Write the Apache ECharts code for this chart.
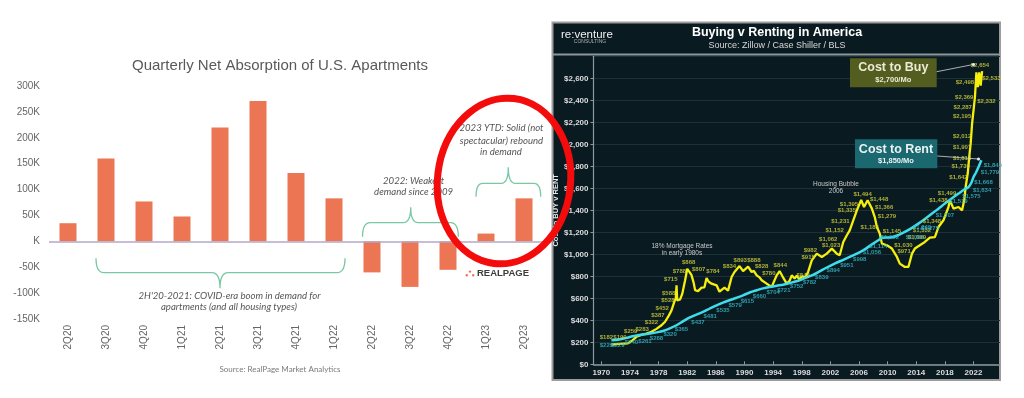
<!DOCTYPE html>
<html>
<head>
<meta charset="utf-8">
<script src="https://cdn.jsdelivr.net/npm/echarts@6/dist/echarts.min.js"></script>
<style>
html,body{margin:0;padding:0;background:#fff;}
#chart{width:1024px;height:398px;}
</style>
</head>
<body>
<div id="chart"></div>
<script>
// ---------- Left chart data ----------
const quarters = ['2Q20','3Q20','4Q20','1Q21','2Q21','3Q21','4Q21','1Q22','2Q22','3Q22','4Q22','1Q23','2Q23'];
const absorption = [35000,160000,77000,48000,220000,271000,132000,83000,-60000,-88000,-55000,15000,83000];

// ---------- Right chart data ----------
const yearTicks = [1970,1974,1978,1982,1986,1990,1994,1998,2002,2006,2010,2014,2018,2022];
const buyYears = [1971.4,1972.5,1973.7,1974.3,1974.9,1975.6,1976.3,1977.0,1977.7,1978.3,1978.9,1979.4,1979.8,1980.2,1980.4,1980.5,1980.6,1981.0,1981.3,1981.7,1982.0,1982.3,1982.6,1982.9,1983.1,1983.5,1984.0,1984.4,1984.7,1985.0,1985.4,1986.1,1986.5,1987.2,1987.7,1988.2,1988.6,1989.3,1989.8,1990.5,1991.0,1991.3,1991.7,1992.1,1992.4,1993.1,1993.8,1994.5,1994.9,1995.3,1995.9,1996.3,1996.6,1997.0,1997.3,1997.7,1998.0,1998.5,1998.9,1999.4,2000.1,2000.8,2001.5,2002.2,2002.9,2003.3,2003.8,2004.3,2004.7,2005.2,2005.7,2006.3,2006.7,2007.2,2007.8,2008.2,2008.5,2008.9,2009.2,2009.9,2010.6,2011.3,2011.7,2012.4,2012.9,2013.4,2013.8,2014.5,2015.2,2015.9,2016.6,2017.1,2017.8,2018.5,2018.7,2019.2,2019.9,2020.4,2020.7,2020.9,2021.2,2021.4,2021.6,2021.8,2022.0,2022.2,2022.4,2022.6,2022.8,2023.0,2023.2];
const buyCost = [180,185,190,215,250,268,280,295,322,350,387,440,490,570,600,718,580,590,640,764,868,840,810,740,673,665,697,700,784,750,733,718,660,697,670,794,839,893,848,888,839,850,809,790,764,733,704,809,848,800,733,760,809,780,805,770,800,790,842,945,1006,976,1006,1052,1006,991,1112,1173,1218,1309,1400,1494,1430,1491,1415,1339,1248,1188,1097,1082,1052,976,915,885,885,1006,1052,1082,1112,1152,1157,1248,1309,1430,1491,1415,1430,1400,1491,1612,1739,1885,2006,2188,2309,2430,2654,2520,2654,2533,2665];
const rentYears = [1971.4,1972.5,1973.5,1974.4,1975.5,1976.8,1977.7,1978.6,1979.5,1980.5,1981.4,1982.3,1983.2,1984.2,1985.1,1986.1,1987.0,1987.9,1988.9,1989.8,1990.8,1991.7,1992.6,1993.5,1994.5,1995.4,1996.4,1997.5,1998.5,1999.5,2000.5,2001.5,2002.6,2003.8,2005.0,2006.0,2006.8,2007.8,2008.7,2009.2,2010.6,2011.5,2012.4,2013.4,2014.3,2015.2,2016.2,2017.1,2018.0,2018.9,2019.9,2020.6,2021.3,2021.7,2022.0,2022.4,2022.7,2023.1];
const rentCost = [218,225,240,255,268,279,290,303,325,355,390,424,450,476,505,536,560,582,605,627,655,673,690,703,715,724,740,760,785,810,845,880,915,950,985,1015,1045,1090,1127,1150,1155,1175,1203,1240,1279,1320,1370,1415,1461,1505,1552,1585,1612,1650,1703,1750,1794,1855];
const buyLabels = [
 [1970.7,242,'$182'],[1972.6,242,'$190'],[1974.1,303,'$259'],[1975.7,318,'$283'],[1977.0,378,'$322'],
 [1977.9,448,'$387'],[1978.5,509,'$452'],[1979.3,584,'$528'],[1979.4,645,'$588'],[1979.7,773,'$715'],
 [1980.9,842,'$788'],[1982.2,927,'$868'],[1983.6,864,'$807'],[1985.6,842,'$784'],[1987.9,887,'$834'],
 [1989.4,948,'$893'],[1991.3,948,'$888'],[1992.4,887,'$828'],[1993.4,827,'$780'],[1995.0,896,'$844'],
 [1998.2,812,'$842'],[1998.9,973,'$915'],[1999.2,1039,'$982'],[2001.7,1139,'$1,062'],[2002.1,1084,'$1,023'],
 [2002.6,1221,'$1,152'],[2003.4,1296,'$1,231'],[2004.3,1396,'$1,335'],[2004.6,1457,'$1,395'],[2006.5,1548,'$1,494'],
 [2008.8,1503,'$1,448'],[2009.5,1427,'$1,366'],[2009.9,1342,'$1,279'],[2007.5,1245,'$1,183'],[2010.6,1205,'$1,145'],
 [2012.2,1084,'$1,030'],[2012.3,1024,'$971'],[2014.1,1154,'$1,099'],[2014.8,1221,'$1,332'],[2016.2,1296,'$1,348'],
 [2017.1,1493,'$1,438'],[2018.3,1554,'$1,499'],[2019.9,1700,'$1,642'],[2020.2,1803,'$1,739'],[2020.4,1873,'$1,816'],
 [2020.4,1969,'$1,907'],[2020.4,2075,'$2,012'],[2020.4,2257,'$2,195'],[2020.5,2336,'$2,287'],[2020.7,2427,'$2,369'],
 [2023.8,2393,'$2,332'],[2020.8,2560,'$2,498'],[2024.5,2600,'$2,533'],[2022.9,2721,'$2,654']
];
const rentLabels = [
 [1970.7,169,'$229'],[1972.3,169,'$229'],[1974.2,196,'$240'],[1976.1,212,'$261'],[1977.7,236,'$288'],
 [1979.6,273,'$320'],[1981.2,318,'$365'],[1983.5,382,'$437'],[1985.2,433,'$481'],[1987.0,487,'$535'],
 [1988.7,533,'$579'],[1990.4,569,'$615'],[1992.1,614,'$660'],[1994.0,654,'$704'],[1995.5,669,'$721'],
 [1997.3,705,'$752'],[1999.1,742,'$782'],[2000.8,791,'$839'],[2002.4,851,'$894'],[2004.3,896,'$951'],
 [2006.1,954,'$998'],[2007.8,1014,'$1,056'],[2008.7,1069,'$1,114'],[2010.3,1151,'$1,092'],[2013.8,1157,'$1,096'],
 [2014.8,1245,'$1,249'],[2015.9,1236,'$1,275'],[2018.0,1357,'$1,307'],[2019.9,1478,'$1,519'],[2021.7,1523,'$1,575'],
 [2023.2,1584,'$1,634'],[2023.4,1651,'$1,668'],[2024.3,1742,'$1,779'],[2024.7,1805,'$1,845']
];

const chart = echarts.init(document.getElementById('chart'), null, {renderer:'canvas'});

const italic = {fontFamily:'Lato', fontStyle:'italic', fontSize:9.6, fill:'#555', align:'center', verticalAlign:'middle'};
const bracketStyle = {fill:null, stroke:'#78c8a4', lineWidth:1.3};
function txt(x,y,text,st){ return {type:'text', x:x, y:y, silent:true, z:50, style:Object.assign({text:text}, st)}; }
// curly brace as a polyline: ends at yEnd, bar at yBar, tip at (xm, yTip)
function quad(p0,p1,p2,out){ for(let t=0;t<=1.0001;t+=0.125){ const a=(1-t)*(1-t), b=2*(1-t)*t, c=t*t; out.push([a*p0[0]+b*p1[0]+c*p2[0], a*p0[1]+b*p1[1]+c*p2[1]]); } }
function brace(xl,xr,xm,yEnd,yBar,yTip,r){
  const pts=[];
  quad([xl,yEnd],[xl,yBar],[xl+r,yBar],pts);
  quad([xm-r,yBar],[xm,yBar],[xm,yTip],pts);
  quad([xm,yTip],[xm,yBar],[xm+r,yBar],pts);
  quad([xr-r,yBar],[xr,yBar],[xr,yEnd],pts);
  return {type:'polyline', z:30, silent:true, shape:{points:pts}, style:bracketStyle};
}

const option = {
  animation:false,
  textStyle:{fontFamily:'Liberation Sans'},
  title:[
    {text:'Quarterly Net Absorption of U.S. Apartments', left:280, top:58, textAlign:'center', padding:0,
     textStyle:{fontSize:15, fontWeight:'normal', color:'#595959', fontFamily:'Liberation Sans'}},
    {text:'Buying v Renting in America', subtext:'Source: Zillow / Case Shiller / BLS', left:777, top:26, textAlign:'center', padding:0, itemGap:2,
     textStyle:{fontSize:12.5, fontWeight:'bold', color:'#ffffff', fontFamily:'Liberation Sans'},
     subtextStyle:{fontSize:9, color:'#d8d8d8', fontFamily:'Liberation Sans'}}
  ],
  grid:[
    {left:49, top:86, width:494, height:233},
    {left:593.5, top:56.3, width:406.5, height:308}
  ],
  xAxis:[
    {type:'category', gridIndex:0, data:quarters, axisLine:{show:false, onZero:false}, axisTick:{show:false},
     axisLabel:{rotate:90, margin:6, fontSize:10, color:'#666'}},
    {type:'value', gridIndex:1, min:1968.9, max:2025.7, splitLine:{show:false},
     axisLine:{show:true, onZero:false, lineStyle:{color:'#8d9aa0', width:1.5}},
     axisTick:{show:true, inside:true, length:3, lineStyle:{color:'#8d9aa0'}, customValues:yearTicks},
     axisLabel:{customValues:yearTicks, margin:4, fontSize:8, fontWeight:'bold', color:'#dcdcdc', formatter:(v)=>String(v)}}
  ],
  yAxis:[
    {type:'value', gridIndex:0, min:-150000, max:300000, interval:50000, splitLine:{show:false}, axisLine:{show:false}, axisTick:{show:false},
     axisLabel:{margin:9, fontSize:10, color:'#666', formatter:(v)=> (v===0?'':(v/1000))+'K'}},
    {type:'value', gridIndex:1, min:0, max:2800, interval:200,
     name:'Cost to BUY v RENT', nameLocation:'middle', nameRotate:90, nameGap:32,
     nameTextStyle:{fontSize:7.5, fontWeight:'bold', color:'#e8e8e8'},
     splitLine:{show:true, lineStyle:{color:'#1d3038', width:1}},
     axisLine:{show:true, lineStyle:{color:'#8d9aa0', width:1.2}},
     axisTick:{show:true, length:3, lineStyle:{color:'#8d9aa0'}},
     axisLabel:{showMaxLabel:false, margin:5, fontSize:8, fontWeight:'bold', color:'#dcdcdc',
       formatter:(v)=>'$'+v.toLocaleString('en-US')}}
  ],
  series:[
    {type:'bar', xAxisIndex:0, yAxisIndex:0, data:absorption, barWidth:17, itemStyle:{color:'#ec7654'}, silent:true,
     markLine:{silent:true, symbol:'none', label:{show:false}, lineStyle:{color:'#b3a9c6', width:1.5, type:'solid'}, data:[{yAxis:0}]}},
    {type:'line', xAxisIndex:1, yAxisIndex:1, data:buyYears.map((y,i)=>[y,buyCost[i]]), showSymbol:false,
     lineStyle:{color:'#f4ef0c', width:2.3}, itemStyle:{color:'#f4ef0c'}, silent:true, z:3},
    {type:'line', xAxisIndex:1, yAxisIndex:1, data:rentYears.map((y,i)=>[y,rentCost[i]]), showSymbol:false, smooth:0.3,
     lineStyle:{color:'#3fdcec', width:2.5}, itemStyle:{color:'#3fdcec'}, silent:true, z:4},
    {type:'scatter', xAxisIndex:1, yAxisIndex:1, data:buyLabels, symbolSize:0, silent:true, z:5,
     label:{show:true, position:'inside', formatter:(p)=>p.data[2], fontSize:6, fontWeight:'bold', color:'#d6d43a'}},
    {type:'scatter', xAxisIndex:1, yAxisIndex:1, data:rentLabels, symbolSize:0, silent:true, z:5,
     label:{show:true, position:'inside', formatter:(p)=>p.data[2], fontSize:6, fontWeight:'bold', color:'#37bccb'}}
  ],
  graphic:{elements:[
    {type:'rect', z:-10, silent:true, shape:{x:552.5, y:22.5, width:447.5, height:357.5}, style:{fill:'#0a1a21', stroke:'#9c9c9c', lineWidth:2}},
    {type:'line', z:-9, silent:true, shape:{x1:553, y1:54.5, x2:1000, y2:54.5}, style:{stroke:'#8e979c', lineWidth:2}},
    txt(561,34.5,'re:venture',{fontSize:11.5, fill:'#f2f2f2', fontFamily:'Liberation Sans', align:'left', verticalAlign:'middle'}),
    txt(590,41.8,'CONSULTING',{fontSize:5, fill:'#a9b0b4', fontFamily:'Liberation Sans', align:'center', verticalAlign:'middle'}),
    txt(682,246.5,'18% Mortgage Rates',{fontSize:6.5, fill:'#c9c9c9', align:'center', verticalAlign:'middle'}),
    txt(682,253.5,'in early 1980s',{fontSize:6.5, fill:'#c9c9c9', align:'center', verticalAlign:'middle'}),
    txt(836,184.3,'Housing Bubble',{fontSize:6.5, fill:'#c9c9c9', align:'center', verticalAlign:'middle'}),
    txt(836,190.8,'2006',{fontSize:6.5, fill:'#c9c9c9', align:'center', verticalAlign:'middle'}),
    {type:'rect', z:40, silent:true, shape:{x:850, y:58.3, width:86.7, height:29}, style:{fill:'#535d1f'}},
    txt(893.3,67.8,'Cost to Buy',{fontSize:12.5, fontWeight:'bold', fill:'#ecebd6', align:'center', verticalAlign:'middle'}),
    txt(893.3,79.5,'$2,700/Mo',{fontSize:7.5, fontWeight:'bold', fill:'#ecebd6', align:'center', verticalAlign:'middle'}),
    {type:'rect', z:40, silent:true, shape:{x:855, y:139.3, width:82.3, height:29}, style:{fill:'#1b6870'}},
    txt(896,149.5,'Cost to Rent',{fontSize:12.5, fontWeight:'bold', fill:'#eaf2f2', align:'center', verticalAlign:'middle'}),
    txt(896,160.5,'$1,850/Mo',{fontSize:7.5, fontWeight:'bold', fill:'#eaf2f2', align:'center', verticalAlign:'middle'}),
    {type:'line', z:41, silent:true, shape:{x1:936.7, y1:71.7, x2:973.3, y2:64.5}, style:{stroke:'#d4d4d4', lineWidth:0.8}},
    {type:'circle', z:41, silent:true, shape:{cx:973.5, cy:64.5, r:1.6}, style:{fill:'#e8e8e8'}},
    {type:'line', z:41, silent:true, shape:{x1:937.3, y1:156, x2:978.3, y2:159}, style:{stroke:'#d4d4d4', lineWidth:0.8}},
    {type:'circle', z:41, silent:true, shape:{cx:978.5, cy:159, r:1.6}, style:{fill:'#e8e8e8'}},
    brace(96,345,220,258.3,272.7,288.3,8),
    txt(229.5,295.7,"2H'20-2021: COVID-era boom in demand for",italic),
    txt(229,307.3,'apartments (and all housing types)',italic),
    brace(362.5,458.3,410.7,236.7,222.7,207.3,7.7),
    txt(413.6,180.7,'2022: Weakest',italic),
    txt(413.6,192.3,'demand since 2009',italic),
    brace(476,540.7,508.3,196.7,183.3,167.3,7),
    txt(501.5,128.3,'2023 YTD: Solid (not',italic),
    txt(501.5,140.5,'spectacular) rebound',italic),
    txt(501,152,'in demand',italic),
    {type:'circle', z:30, silent:true, shape:{cx:466.8, cy:275.3, r:1.2}, style:{fill:'#ec7654'}},
    {type:'circle', z:30, silent:true, shape:{cx:470, cy:271.6, r:1.2}, style:{fill:'#ec7654'}},
    {type:'circle', z:30, silent:true, shape:{cx:473.2, cy:275.3, r:1.2}, style:{fill:'#ec7654'}},
    txt(477,273.5,'REALPAGE',{fontSize:9.5, fontWeight:'bold', fill:'#3c3c3c', fontFamily:'Liberation Sans', align:'left', verticalAlign:'middle'}),
    txt(280,369.3,'Source: RealPage Market Analytics',{fontSize:8, fill:'#7a7a7a', fontFamily:'Lato', align:'center', verticalAlign:'middle'}),
    {type:'ellipse', z:100, silent:true, x:504, y:181, rotation:-0.12, shape:{cx:0, cy:0, rx:66.5, ry:83}, style:{fill:null, stroke:'#f40c0c', lineWidth:7}}
  ]}
};
chart.setOption(option);
</script>
</body>
</html>
